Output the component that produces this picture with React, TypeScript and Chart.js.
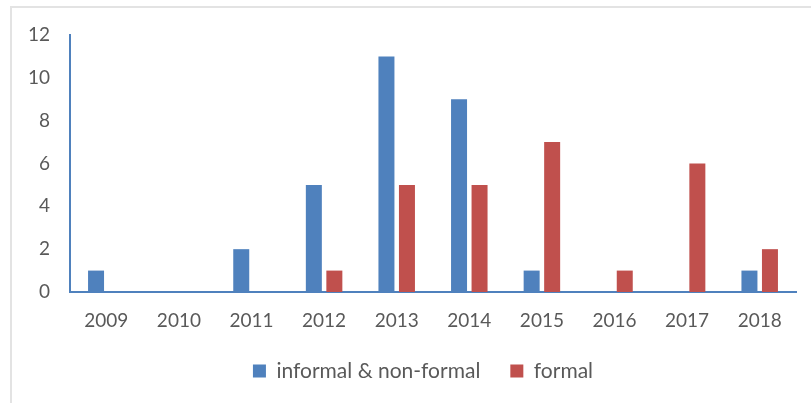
import React, { useEffect, useRef } from "react";
import { Chart, registerables } from "chart.js";

Chart.register(...registerables);

const years = ["2009", "2010", "2011", "2012", "2013", "2014", "2015", "2016", "2017", "2018"];
const informalNonFormal = [1, 0, 2, 5, 11, 9, 1, 0, 0, 1];
const formal = [0, 0, 0, 1, 5, 5, 7, 1, 6, 2];
const seriesNames = ["informal & non-formal", "formal"];
const yMin = 0;
const yMax = 12;
const yStep = 2;

const FONT = "Lato, 'Open Sans', sans-serif";
const TEXT = "#595959";
const BLUE = "#4F81BD";
const RED = "#C0504D";

const LEGEND_H = 72.6;
const LEGEND_SHIFT = 25;

const legendFix = {
  id: "legendFix",
  beforeLayout(chart: any) {
    const lg = chart.legend;
    if (lg && !lg._fixedFit) {
      const orig = lg.fit;
      lg.fit = function () {
        orig.call(this);
        this.height = LEGEND_H;
      };
      lg._fixedFit = true;
    }
  },
  afterLayout(chart: any) {
    const lg = chart.legend;
    if (lg) {
      lg.left += LEGEND_SHIFT;
      lg.right += LEGEND_SHIFT;
    }
  },
};

export default function App() {
  const ref = useRef<HTMLCanvasElement | null>(null);

  useEffect(() => {
    if (!ref.current) return;
    const chart = new Chart(ref.current, {
      type: "bar",
      plugins: [legendFix],
      data: {
        labels: years,
        datasets: [
          {
            label: seriesNames[0],
            data: informalNonFormal,
            backgroundColor: BLUE,
            borderWidth: 0,
            categoryPercentage: 0.565,
            barPercentage: 0.78,
          },
          {
            label: seriesNames[1],
            data: formal,
            backgroundColor: RED,
            borderWidth: 0,
            categoryPercentage: 0.565,
            barPercentage: 0.78,
          },
        ],
      },
      options: {
        animation: false,
        responsive: true,
        maintainAspectRatio: false,
        layout: { padding: { left: 0, right: 15, top: 35, bottom: 0 } },
        plugins: {
          tooltip: { enabled: false },
          legend: {
            position: "bottom",
            labels: {
              boxWidth: 13,
              boxHeight: 13,
              padding: 30,
              color: TEXT,
              font: { family: FONT, size: 21 },
            },
          },
        },
        scales: {
          x: {
            grid: { display: false, drawTicks: false },
            border: { display: true, color: BLUE, width: 2 },
            ticks: {
              color: TEXT,
              font: { family: FONT, size: 19 },
              padding: 17,
              maxRotation: 0,
            },
            afterFit: (scale: any) => {
              scale.height = 38.4;
            },
          },
          y: {
            min: yMin,
            max: yMax,
            grid: { display: false, drawTicks: false },
            border: { display: true, color: BLUE, width: 2 },
            ticks: {
              stepSize: yStep,
              color: TEXT,
              font: { family: FONT, size: 19 },
              padding: 20,
            },
            afterFit: (scale: any) => {
              scale.width = 70;
            },
          },
        },
      },
    });
    return () => chart.destroy();
  }, []);

  return (
    <div style={{ position: "fixed", left: 0, top: 0, width: 811, height: 403, overflow: "hidden", background: "#fff" }}>
      <div
        style={{
          position: "absolute",
          left: 10,
          top: 6,
          width: 900,
          height: 500,
          borderLeft: "2px solid #e3e3e3",
          borderTop: "2px solid #e3e3e3",
        }}
      />
      <div style={{ position: "absolute", left: 0, top: 0, width: 811, height: 403 }}>
        <canvas ref={ref} />
      </div>
    </div>
  );
}
